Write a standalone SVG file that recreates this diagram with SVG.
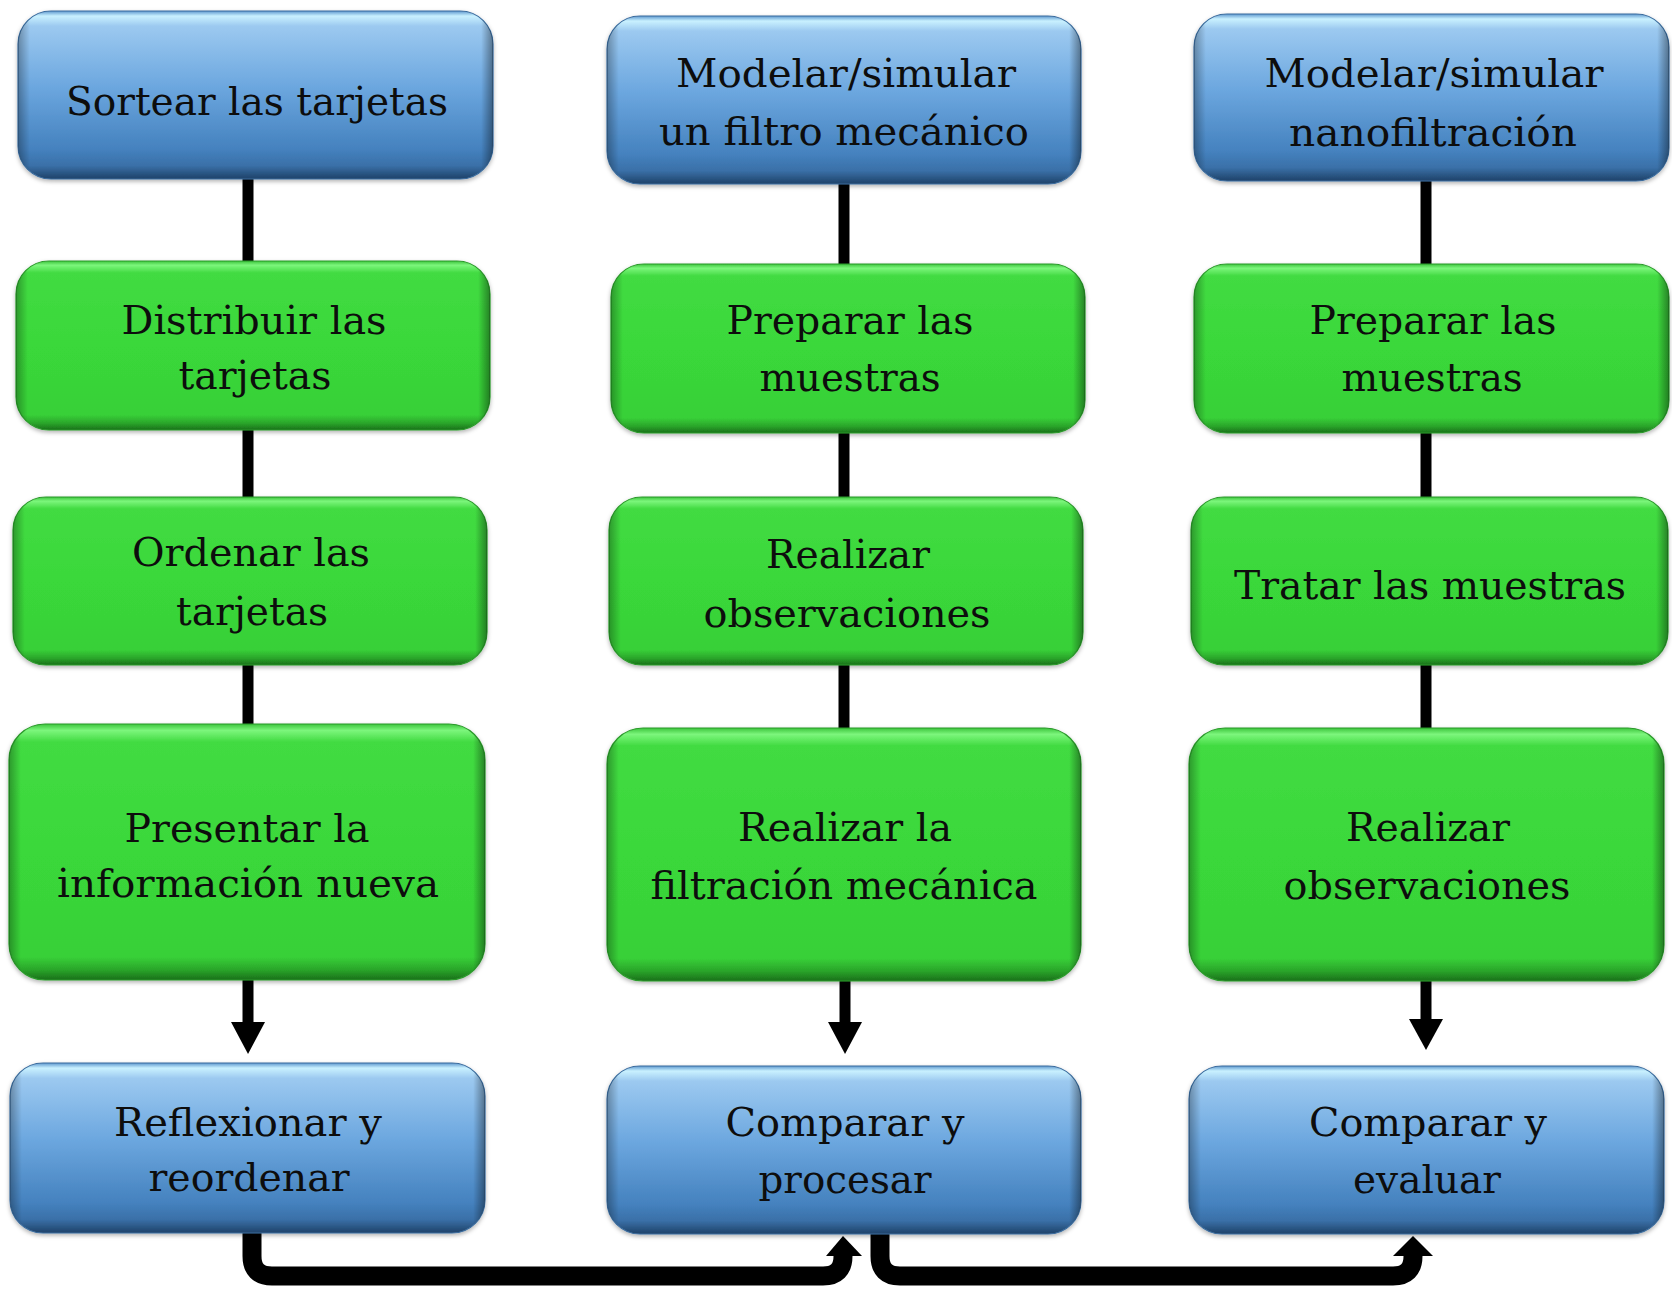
<svg xmlns="http://www.w3.org/2000/svg" width="1672" height="1290" viewBox="0 0 1672 1290">
<defs>
<linearGradient id="gBlue" x1="0" y1="0" x2="0" y2="1">
<stop offset="0" stop-color="#5e98cf"/>
<stop offset="0.03" stop-color="#c9f1ff"/>
<stop offset="0.09" stop-color="#9cc9f0"/>
<stop offset="0.45" stop-color="#6ca7df"/>
<stop offset="0.82" stop-color="#4582bf"/>
<stop offset="0.92" stop-color="#3a70a8"/>
<stop offset="1" stop-color="#1f4268"/>
</linearGradient>
<linearGradient id="gGreen" x1="0" y1="0" x2="0" y2="1">
<stop offset="0" stop-color="#3cc43c"/>
<stop offset="0.025" stop-color="#7cf67c"/>
<stop offset="0.07" stop-color="#42db42"/>
<stop offset="0.5" stop-color="#3ad83a"/>
<stop offset="0.91" stop-color="#38d038"/>
<stop offset="0.96" stop-color="#2aa52a"/>
<stop offset="1" stop-color="#1a701a"/>
</linearGradient>
<linearGradient id="gSide" x1="0" y1="0" x2="1" y2="0">
<stop offset="0" stop-color="#000" stop-opacity="0.3"/>
<stop offset="0.025" stop-color="#000" stop-opacity="0"/>
<stop offset="0.975" stop-color="#000" stop-opacity="0"/>
<stop offset="1" stop-color="#000" stop-opacity="0.4"/>
</linearGradient>
<filter id="sh" x="-5%" y="-5%" width="110%" height="115%">
<feDropShadow dx="0" dy="2" stdDeviation="2" flood-color="#000" flood-opacity="0.3"/>
</filter>
</defs>
<style>
.blue{fill:url(#gBlue);stroke:#3a6c9e;stroke-width:1.2;filter:url(#sh)}
.green{fill:url(#gGreen);stroke:#2a9a2a;stroke-width:1.2;filter:url(#sh)}
.side{fill:url(#gSide);stroke:none}
text{font-family:"DejaVu Serif","Liberation Serif",serif;font-size:40px;fill:#0d0d0d;text-anchor:middle}
.ln{stroke:#000;stroke-width:11;fill:none}
.thick{stroke:#000;stroke-width:19;fill:none}
.head{fill:#000}
</style>
<rect width="1672" height="1290" fill="#fff"/>
<g id="connectors">
<line class="ln" x1="248" y1="178" x2="248" y2="262"/>
<line class="ln" x1="248" y1="429" x2="248" y2="498"/>
<line class="ln" x1="248" y1="664" x2="248" y2="726"/>
<line class="ln" x1="248" y1="978" x2="248" y2="1025"/>
<polygon class="head" points="231,1022 265,1022 248,1054"/>
<line class="ln" x1="844" y1="183" x2="844" y2="265"/>
<line class="ln" x1="844" y1="432" x2="844" y2="498"/>
<line class="ln" x1="844" y1="664" x2="844" y2="729"/>
<line class="ln" x1="845" y1="980" x2="845" y2="1025"/>
<polygon class="head" points="828,1022 862,1022 845,1054"/>
<line class="ln" x1="1426" y1="180" x2="1426" y2="265"/>
<line class="ln" x1="1426" y1="432" x2="1426" y2="498"/>
<line class="ln" x1="1426" y1="664" x2="1426" y2="729"/>
<line class="ln" x1="1426" y1="980" x2="1426" y2="1022"/>
<polygon class="head" points="1409,1019 1443,1019 1426,1050"/>
<path class="thick" d="M252,1232 V1256 Q252,1276 272,1276 H823 Q843,1276 843,1256 V1252"/>
<polygon class="head" points="826,1256 843,1236 862,1256"/>
<path class="thick" d="M880,1234 V1256 Q880,1276 900,1276 H1393 Q1413,1276 1413,1256 V1252"/>
<polygon class="head" points="1393,1256 1413,1236 1433,1256"/>
</g>
<g id="n1">
<rect class="blue" x="18" y="11" width="475" height="168" rx="33"/>
<rect class="side" x="18" y="11" width="475" height="168" rx="33"/>
<text x="257" y="115" textLength="382" lengthAdjust="spacingAndGlyphs">Sortear las tarjetas</text>
</g>
<g id="n2">
<rect class="green" x="16" y="261" width="474" height="169" rx="33"/>
<rect class="side" x="16" y="261" width="474" height="169" rx="33"/>
<text x="254" y="334" textLength="265" lengthAdjust="spacingAndGlyphs">Distribuir las</text>
<text x="255" y="389" textLength="153" lengthAdjust="spacingAndGlyphs">tarjetas</text>
</g>
<g id="n3">
<rect class="green" x="13" y="497" width="474" height="168" rx="33"/>
<rect class="side" x="13" y="497" width="474" height="168" rx="33"/>
<text x="251" y="566" textLength="238" lengthAdjust="spacingAndGlyphs">Ordenar las</text>
<text x="252" y="625" textLength="152" lengthAdjust="spacingAndGlyphs">tarjetas</text>
</g>
<g id="n4">
<rect class="green" x="9" y="724" width="476" height="256" rx="36"/>
<rect class="side" x="9" y="724" width="476" height="256" rx="36"/>
<text x="247" y="842" textLength="245" lengthAdjust="spacingAndGlyphs">Presentar la</text>
<text x="248" y="897" textLength="382" lengthAdjust="spacingAndGlyphs">información nueva</text>
</g>
<g id="n5">
<rect class="blue" x="10" y="1063" width="475" height="170" rx="33"/>
<rect class="side" x="10" y="1063" width="475" height="170" rx="33"/>
<text x="248" y="1136" textLength="268" lengthAdjust="spacingAndGlyphs">Reflexionar y</text>
<text x="249" y="1191" textLength="201" lengthAdjust="spacingAndGlyphs">reordenar</text>
</g>
<g id="n6">
<rect class="blue" x="607" y="16" width="474" height="168" rx="33"/>
<rect class="side" x="607" y="16" width="474" height="168" rx="33"/>
<text x="846" y="87" textLength="340" lengthAdjust="spacingAndGlyphs">Modelar/simular</text>
<text x="844" y="145" textLength="370" lengthAdjust="spacingAndGlyphs">un filtro mecánico</text>
</g>
<g id="n7">
<rect class="green" x="611" y="264" width="474" height="169" rx="33"/>
<rect class="side" x="611" y="264" width="474" height="169" rx="33"/>
<text x="850" y="334" textLength="247" lengthAdjust="spacingAndGlyphs">Preparar las</text>
<text x="850" y="391" textLength="181" lengthAdjust="spacingAndGlyphs">muestras</text>
</g>
<g id="n8">
<rect class="green" x="609" y="497" width="474" height="168" rx="33"/>
<rect class="side" x="609" y="497" width="474" height="168" rx="33"/>
<text x="848" y="568" textLength="164" lengthAdjust="spacingAndGlyphs">Realizar</text>
<text x="847" y="627" textLength="287" lengthAdjust="spacingAndGlyphs">observaciones</text>
</g>
<g id="n9">
<rect class="green" x="607" y="728" width="474" height="253" rx="36"/>
<rect class="side" x="607" y="728" width="474" height="253" rx="36"/>
<text x="845" y="841" textLength="214" lengthAdjust="spacingAndGlyphs">Realizar la</text>
<text x="844" y="899" textLength="387" lengthAdjust="spacingAndGlyphs">filtración mecánica</text>
</g>
<g id="n10">
<rect class="blue" x="607" y="1066" width="474" height="168" rx="33"/>
<rect class="side" x="607" y="1066" width="474" height="168" rx="33"/>
<text x="845" y="1136" textLength="239" lengthAdjust="spacingAndGlyphs">Comparar y</text>
<text x="845" y="1193" textLength="173" lengthAdjust="spacingAndGlyphs">procesar</text>
</g>
<g id="n11">
<rect class="blue" x="1194" y="14" width="475" height="167" rx="33"/>
<rect class="side" x="1194" y="14" width="475" height="167" rx="33"/>
<text x="1434" y="87" textLength="339" lengthAdjust="spacingAndGlyphs">Modelar/simular</text>
<text x="1433" y="146" textLength="288" lengthAdjust="spacingAndGlyphs">nanofiltración</text>
</g>
<g id="n12">
<rect class="green" x="1194" y="264" width="475" height="169" rx="33"/>
<rect class="side" x="1194" y="264" width="475" height="169" rx="33"/>
<text x="1433" y="334" textLength="247" lengthAdjust="spacingAndGlyphs">Preparar las</text>
<text x="1432" y="391" textLength="181" lengthAdjust="spacingAndGlyphs">muestras</text>
</g>
<g id="n13">
<rect class="green" x="1191" y="497" width="477" height="168" rx="33"/>
<rect class="side" x="1191" y="497" width="477" height="168" rx="33"/>
<text x="1430" y="599" textLength="392" lengthAdjust="spacingAndGlyphs">Tratar las muestras</text>
</g>
<g id="n14">
<rect class="green" x="1189" y="728" width="475" height="253" rx="36"/>
<rect class="side" x="1189" y="728" width="475" height="253" rx="36"/>
<text x="1428" y="841" textLength="164" lengthAdjust="spacingAndGlyphs">Realizar</text>
<text x="1427" y="899" textLength="287" lengthAdjust="spacingAndGlyphs">observaciones</text>
</g>
<g id="n15">
<rect class="blue" x="1189" y="1066" width="475" height="168" rx="33"/>
<rect class="side" x="1189" y="1066" width="475" height="168" rx="33"/>
<text x="1428" y="1136" textLength="238" lengthAdjust="spacingAndGlyphs">Comparar y</text>
<text x="1427" y="1193" textLength="148" lengthAdjust="spacingAndGlyphs">evaluar</text>
</g>
</svg>
